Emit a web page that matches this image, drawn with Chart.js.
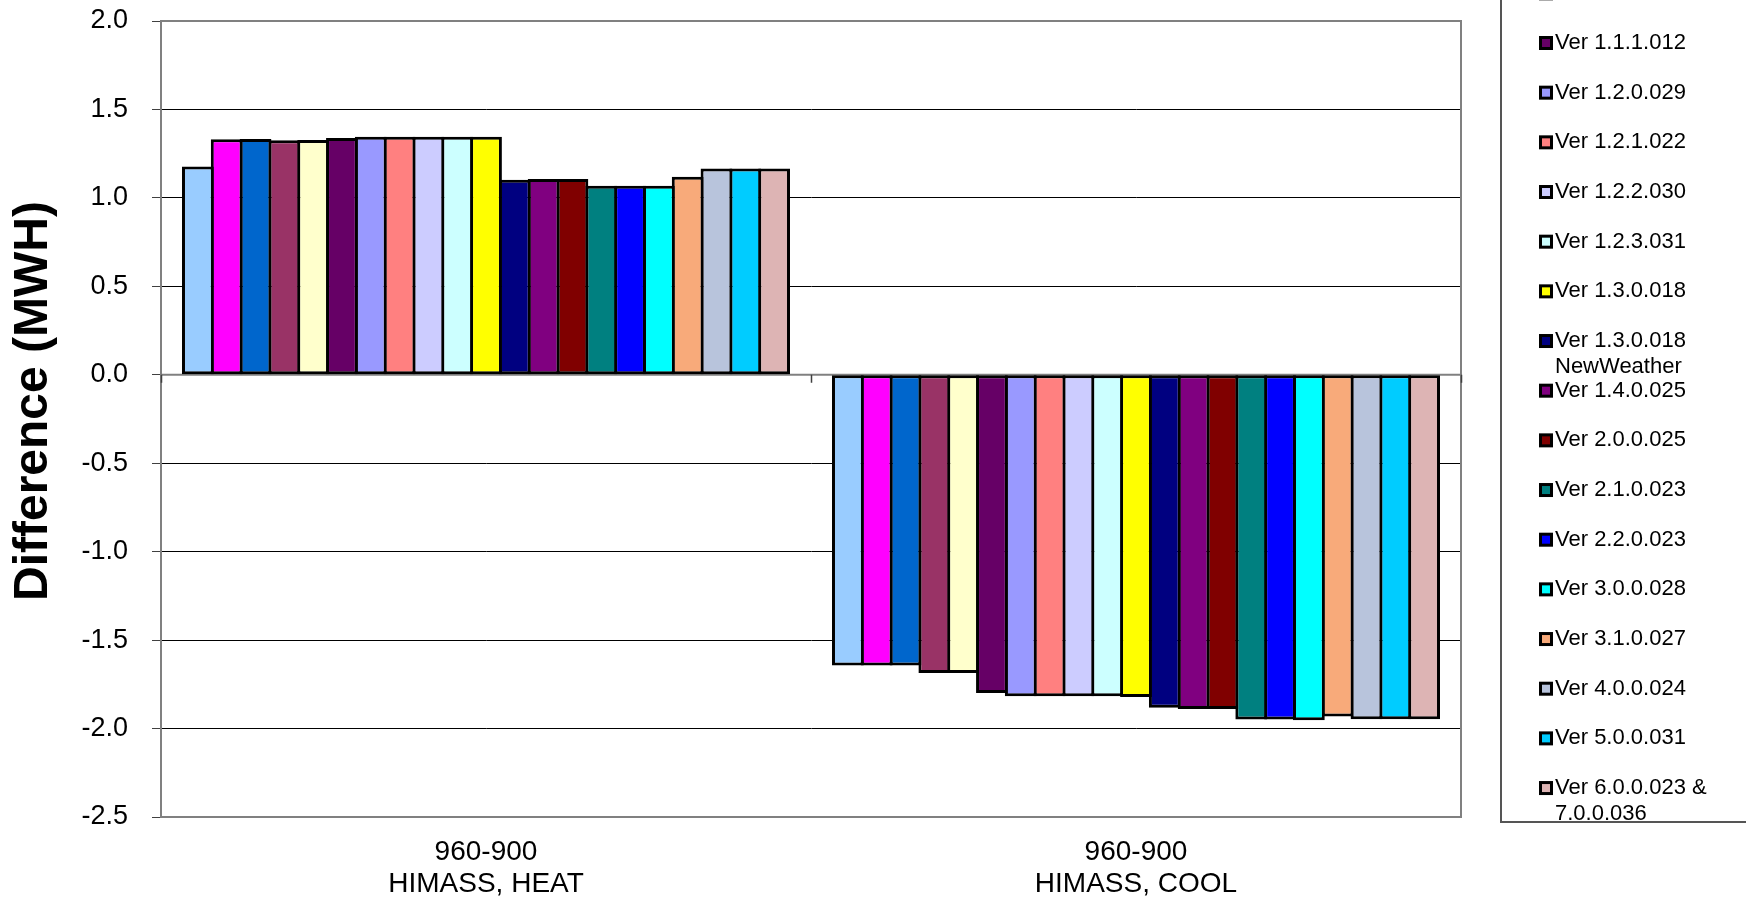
<!DOCTYPE html>
<html>
<head>
<meta charset="utf-8">
<title>960-900 HIMASS</title>
<script src="https://cdn.jsdelivr.net/npm/chart.js@4"></script>
<style>
	html, body { margin: 0; padding: 0; background: #fff; }
	canvas { display: block; }
</style>
</head>
<body>
<canvas id="chart-diff" width="1746" height="900"></canvas>
<script>
'use strict';

// Data
const categories = [['960-900', 'HIMASS, HEAT'], ['960-900', 'HIMASS, COOL']];
const versions = [
	'Ver 1.0.0.023', 'Ver 1.0.1.002', 'Ver 1.0.2.008', 'Ver 1.0.3.019', 'Ver 1.1.0.020',
	'Ver 1.1.1.012', 'Ver 1.2.0.029', 'Ver 1.2.1.022', 'Ver 1.2.2.030', 'Ver 1.2.3.031',
	'Ver 1.3.0.018', 'Ver 1.3.0.018\nNewWeather', 'Ver 1.4.0.025', 'Ver 2.0.0.025',
	'Ver 2.1.0.023', 'Ver 2.2.0.023', 'Ver 3.0.0.028', 'Ver 3.1.0.027', 'Ver 4.0.0.024',
	'Ver 5.0.0.031', 'Ver 6.0.0.023 &\n7.0.0.036'
];
const heatValues = [1.177, 1.332, 1.333, 1.326, 1.327, 1.339, 1.346, 1.345, 1.345, 1.345, 1.346,
	1.102, 1.107, 1.107, 1.068, 1.068, 1.068, 1.120, 1.166, 1.166, 1.166];
const coolValues = [-1.644, -1.644, -1.644, -1.686, -1.686, -1.799, -1.817, -1.817, -1.817, -1.817, -1.822,
	-1.883, -1.889, -1.889, -1.949, -1.949, -1.953, -1.932, -1.947, -1.947, -1.947];
const yAxisTitle = 'Difference (MWH)';
const yMin = -2.5;
const yMax = 2.0;
const yStep = 0.5;

// Styles
const seriesColors = [
	'#99CCFF', '#FF00FF', '#0066CC', '#993366', '#FFFFCC', '#660066', '#9999FF',
	'#FF8080', '#CCCCFF', '#CCFFFF', '#FFFF00', '#000080', '#800080', '#800000',
	'#008080', '#0000FF', '#00FFFF', '#F8AA7A', '#B8C4DC', '#00CCFF', '#DDB4B4'
];
const FONT = "'Liberation Sans', Arial, sans-serif";

// Plot frame, category axis at zero and its tick marks
const framePlugin = {
	id: 'frame',
	beforeDatasetsDraw: function (chart) {
		const { ctx, chartArea: a, scales: { x, y } } = chart;
		const y0 = y.getPixelForValue(0);
		ctx.save();
		ctx.strokeStyle = '#808080';
		ctx.lineWidth = 2;
		ctx.strokeRect(a.left, a.top, a.right - a.left, a.bottom - a.top);
		ctx.beginPath();
		ctx.moveTo(a.left, y0);
		ctx.lineTo(a.right, y0);
		ctx.stroke();
		ctx.strokeStyle = '#404040';
		ctx.lineWidth = 1.5;
		ctx.beginPath();
		for (let i = 0; i <= categories.length; i++) {
			const px = Math.round(x.getPixelForValue(i - 0.5)) + 0.5;
			ctx.moveTo(px, y0);
			ctx.lineTo(px, y0 + 8);
		}
		ctx.stroke();
		ctx.restore();
	}
};

// Rotated axis title and the clipped legend on the right
const sidePlugin = {
	id: 'side',
	afterDraw: function (chart) {
		const ctx = chart.ctx;
		ctx.save();
		ctx.fillStyle = '#000';
		ctx.font = 'bold 48px ' + FONT;
		ctx.textAlign = 'center';
		ctx.textBaseline = 'middle';
		ctx.translate(34, 401);
		ctx.rotate(-Math.PI / 2);
		ctx.fillText(yAxisTitle, 0, 0);
		ctx.restore();

		ctx.save();
		ctx.strokeStyle = '#555';
		ctx.lineWidth = 2;
		ctx.beginPath();
		ctx.moveTo(1501, 0);
		ctx.lineTo(1501, 822);
		ctx.lineTo(1746, 822);
		ctx.stroke();

		ctx.font = '22px ' + FONT;
		ctx.textAlign = 'left';
		ctx.textBaseline = 'middle';
		chart.data.datasets.forEach((ds, i) => {
			const cy = 43 + (i - 5) * 49.67;
			ctx.fillStyle = ds.backgroundColor;
			ctx.fillRect(1540.5, cy - 5.5, 11, 11);
			ctx.strokeStyle = '#000';
			ctx.lineWidth = 3;
			ctx.strokeRect(1540.5, cy - 5.5, 11, 11);
			ctx.fillStyle = '#000';
			ds.label.split('\n').forEach((t, j) => {
				ctx.fillText(t, 1555, cy + j * 26);
			});
		});
		ctx.restore();
	}
};

// bars overlap by one border width so neighbours share a single outline
const datasets = versions.map((label, i) => ({
	label: label,
	data: [heatValues[i], coolValues[i]],
	backgroundColor: seriesColors[i],
	borderColor: '#000',
	borderWidth: 3,
	borderSkipped: false,
	categoryPercentage: 0.9308,
	barPercentage: 1.104
}));

new Chart(document.getElementById('chart-diff'), {
	type: 'bar',
	data: {
		labels: categories,
		datasets: datasets
	},
	options: {
		responsive: false,
		animation: false,
		layout: {
			padding: { top: 21, right: 285, bottom: 0, left: 0 }
		},
		plugins: {
			legend: { display: false },
			tooltip: { enabled: false }
		},
		scales: {
			x: {
				grid: { display: false, drawTicks: false },
				border: { display: false },
				ticks: {
					color: '#000',
					padding: 19,
					maxRotation: 0,
					font: { family: FONT, size: 28, lineHeight: 1.15 }
				},
				afterFit: function (scale) { scale.height = 83; }
			},
			y: {
				min: yMin,
				max: yMax,
				ticks: {
					stepSize: yStep,
					padding: 24,
					color: '#000',
					font: { family: FONT, size: 27 },
					callback: v => v.toFixed(1)
				},
				grid: {
					color: c => (c.tick.value === 0 || c.tick.value === yMax || c.tick.value === yMin) ? '#808080' : '#000',
					lineWidth: 1,
					tickLength: 9,
					tickColor: '#404040'
				},
				border: { color: '#606060', width: 2 },
				afterFit: function (scale) {
					scale.width = 161;
					scale.paddingTop = 0;
					scale.paddingBottom = 0;
				}
			}
		}
	},
	plugins: [framePlugin, sidePlugin]
});
</script>
</body>
</html>
